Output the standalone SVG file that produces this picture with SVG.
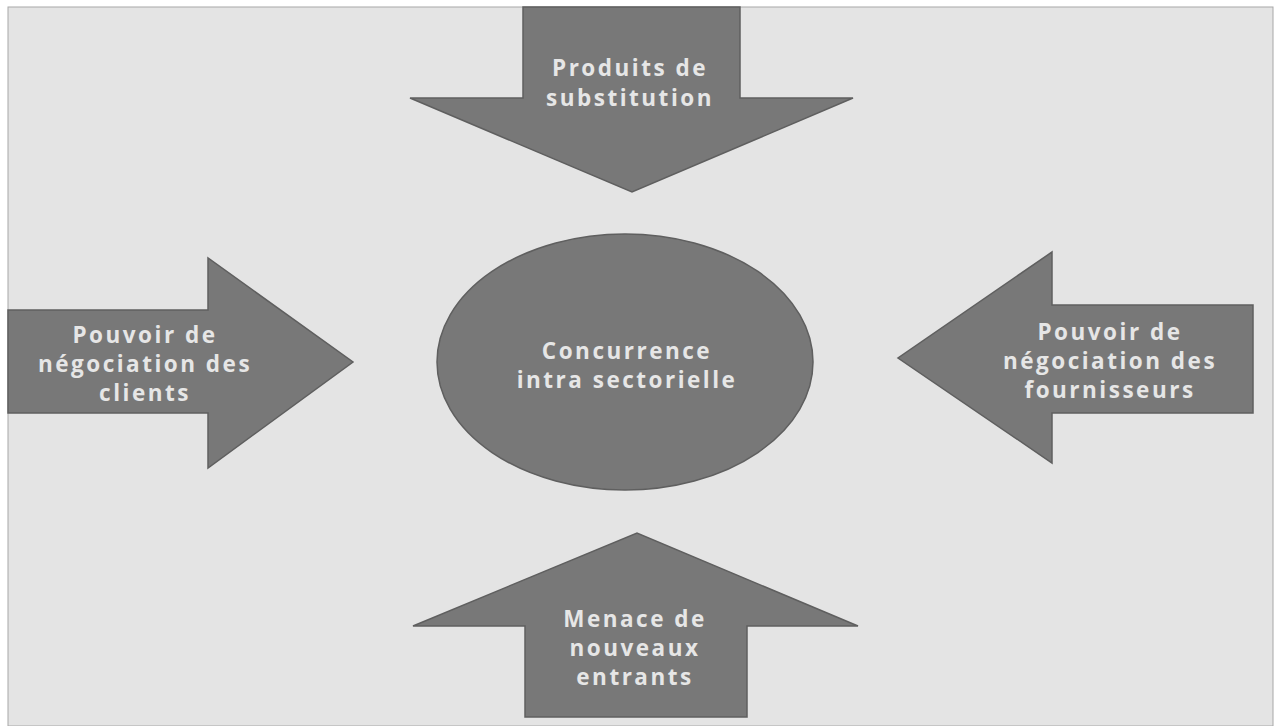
<svg xmlns="http://www.w3.org/2000/svg" width="1275" height="726" viewBox="0 0 1275 726">
<style>
.shape{fill:#787878;stroke:#5f5f5f;stroke-width:1.5}
.lbl{font-family:"Open Sans","Liberation Sans",sans-serif;font-weight:bold;font-size:22.5px;fill:#e6e6e6;text-anchor:middle;letter-spacing:2.5px}
</style>
<rect x="0" y="0" width="1275" height="726" fill="#ffffff"/>
<rect x="8" y="7" width="1265" height="719" fill="#e4e4e4" stroke="#a8a8a8" stroke-width="1"/>
<g id="connectors"></g>
<g id="top-arrow">
<polygon class="shape" points="523,7 740,7 740,98 853,98 632,192 410,98 523,98"/>
<text class="lbl" x="630" y="76">Produits de</text>
<text class="lbl" x="630" y="106">substitution</text>
</g>
<g id="left-arrow">
<polygon class="shape" points="8,310 208,310 208,258 353,362 208,468 208,413 8,413"/>
<text class="lbl" x="145" y="343">Pouvoir de</text>
<text class="lbl" x="145" y="372">négociation des</text>
<text class="lbl" x="145" y="401">clients</text>
</g>
<g id="right-arrow">
<polygon class="shape" points="1253,305 1052,305 1052,252 898,358 1052,463 1052,413 1253,413"/>
<text class="lbl" x="1110" y="340">Pouvoir de</text>
<text class="lbl" x="1110" y="369">négociation des</text>
<text class="lbl" x="1110" y="398">fournisseurs</text>
</g>
<g id="bottom-arrow">
<polygon class="shape" points="525,717 747,717 747,626 858,626 637,533 413,626 525,626"/>
<text class="lbl" x="635" y="627">Menace de</text>
<text class="lbl" x="635" y="656">nouveaux</text>
<text class="lbl" x="635" y="685">entrants</text>
</g>
<g id="center">
<ellipse class="shape" cx="625" cy="362" rx="188" ry="128"/>
<text class="lbl" x="627" y="359">Concurrence</text>
<text class="lbl" x="627" y="388">intra sectorielle</text>
</g>
</svg>
